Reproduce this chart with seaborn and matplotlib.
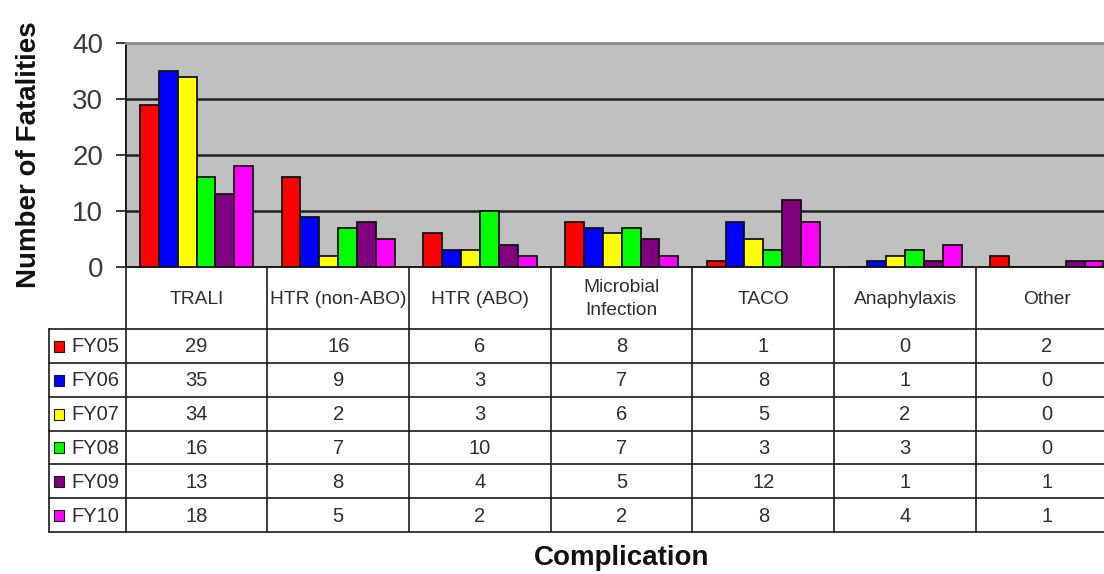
import numpy as np
import pandas as pd
import matplotlib
matplotlib.use("Agg")
import matplotlib.pyplot as plt
from matplotlib.patches import Rectangle
from matplotlib.transforms import blended_transform_factory
from matplotlib import font_manager
import seaborn as sns

# Fatalities by complication and fiscal year
complications = ["TRALI", "HTR (non-ABO)", "HTR (ABO)", "Microbial Infection",
                 "TACO", "Anaphylaxis", "Other"]
column_labels = ["TRALI", "HTR (non-ABO)", "HTR (ABO)", "Microbial\nInfection",
                 "TACO", "Anaphylaxis", "Other"]
years = ["FY05", "FY06", "FY07", "FY08", "FY09", "FY10"]
fy05 = [29, 16, 6, 8, 1, 0, 2]
fy06 = [35, 9, 3, 7, 8, 1, 0]
fy07 = [34, 2, 3, 6, 5, 2, 0]
fy08 = [16, 7, 10, 7, 3, 3, 0]
fy09 = [13, 8, 4, 5, 12, 1, 1]
fy10 = [18, 5, 2, 2, 8, 4, 1]
series = [fy05, fy06, fy07, fy08, fy09, fy10]
colors = ["#FF0000", "#0000FF", "#FFFF00", "#00FF00", "#800080", "#FF00FF"]
y_ticks = [0, 10, 20, 30, 40]

df = pd.DataFrame(
    [(c, y, v) for y, vals in zip(years, series) for c, v in zip(complications, vals)],
    columns=["Complication", "Year", "Fatalities"],
)

sns.set_theme(style="white")
plt.rcParams["font.family"] = ["Liberation Sans", "DejaVu Sans"]

# Table text uses a condensed face when one is available
installed = {f.name for f in font_manager.fontManager.ttflist}
if "Liberation Sans Narrow" in installed:
    table_font = ["Liberation Sans Narrow", "Liberation Sans"]
    head_size, cell_size = 16.5, 16.5
else:
    table_font = ["Liberation Sans", "DejaVu Sans"]
    head_size, cell_size = 13.8, 14.5

W, H = 1104, 574
fig = plt.figure(figsize=(W / 100, H / 100), dpi=100)

# Chart area (pixel layout of the plot region)
ax_left, ax_top, ax_bottom = 125.7, 43, 267
col_w = 141.7
ax = fig.add_axes([ax_left / W, (H - ax_bottom) / H,
                   7 * col_w / W, (ax_bottom - ax_top) / H])
ax.set_facecolor("#C0C0C0")

sns.barplot(data=df, x="Complication", y="Fatalities", hue="Year",
            palette=colors, saturation=1, edgecolor="#111111", linewidth=1.3,
            width=0.8, legend=False, ax=ax, zorder=3)

ax.set_xlim(-0.5, 6.5)
ax.set_ylim(y_ticks[0], y_ticks[-1])
ax.set_yticks(y_ticks)
for t in y_ticks[1:-1]:
    ax.axhline(t, color="#1f1f1f", lw=1.8, zorder=1)
ax.set_xticks([])
ax.set_xlabel("")
ax.tick_params(axis="y", length=7.2, width=1.2, color="#1a1a1a",
               labelsize=20, labelcolor="#3a3a3a", pad=9, left=True)
ax.set_ylabel("Number of Fatalities", fontsize=20, fontweight="bold",
              color="#111111", labelpad=22)
for side in ["left", "bottom"]:
    ax.spines[side].set_color("#1a1a1a")
    ax.spines[side].set_linewidth(1.4)
ax.spines["top"].set_color("#8c8c8c")
ax.spines["top"].set_linewidth(2.0)
ax.spines["right"].set_visible(False)

fig.text((ax_left + 3.5 * col_w) / W, 1 - 558 / H, "Complication",
         fontsize=20, fontweight="bold", color="#111111",
         ha="center", va="center")

# Data table beneath the chart, in figure pixel units
tax = fig.add_axes([0, 0, 1, 1])
tax.set_xlim(0, W)
tax.set_ylim(H, 0)
tax.axis("off")
colx = blended_transform_factory(ax.transData, tax.transData)

head_top, head_bot = 267, 329
row_h = 33.85
n_rows = len(years)
tab_bot = head_bot + n_rows * row_h
leg_left = 49
line_kw = dict(color="#1a1a1a", lw=1.2)
txt_color = "#2e2e2e"

for k in range(n_rows + 1):
    y = head_bot + k * row_h
    tax.plot([leg_left, W + 20], [y, y], **line_kw, clip_on=False)
tax.plot([leg_left, leg_left], [head_bot, tab_bot], **line_kw)
tax.plot([ax_left, ax_left], [head_top, tab_bot], **line_kw)
for i in range(len(complications)):
    tax.plot([i + 0.5, i + 0.5], [head_top, tab_bot], transform=colx, **line_kw)

for i, lab in enumerate(column_labels):
    tax.text(i, (head_top + head_bot) / 2 + 1, lab, transform=colx,
             ha="center", va="center", fontsize=head_size, color=txt_color,
             linespacing=1.45, family=table_font)

for r, (yr, vals, col) in enumerate(zip(years, series, colors)):
    yc = head_bot + (r + 0.5) * row_h
    tax.add_patch(Rectangle((54, yc - 5), 10, 11, facecolor=col,
                            edgecolor="#1a1a1a", lw=0.8))
    tax.text(71, yc + 1, yr, ha="left", va="center", fontsize=cell_size,
             color=txt_color, family=table_font)
    for i, v in enumerate(vals):
        tax.text(i, yc + 1, str(v), transform=colx, ha="center", va="center",
                 fontsize=cell_size, color=txt_color, family=table_font)

fig.savefig("out.png", dpi=100, facecolor="white")
